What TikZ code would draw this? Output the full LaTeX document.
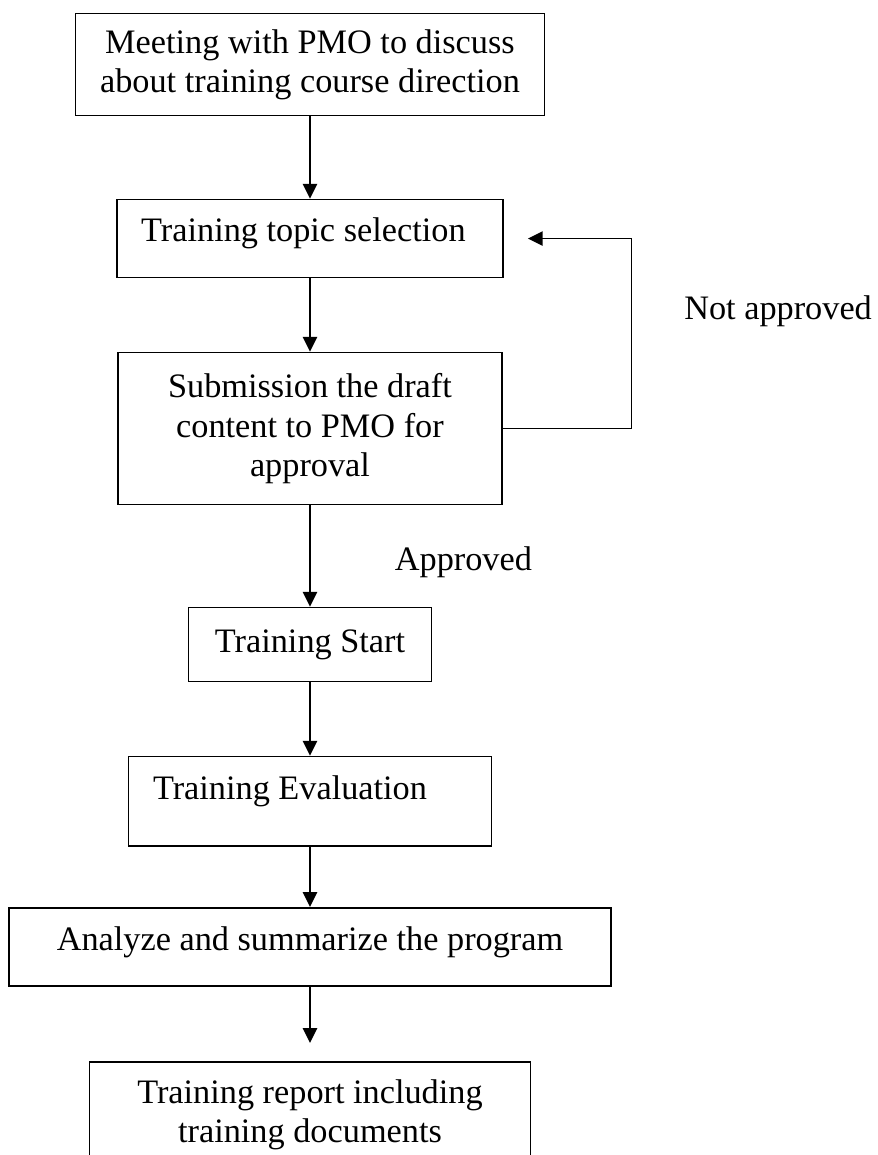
\documentclass[tikz,border=0pt]{standalone}
\usepackage{fontspec}
\setmainfont{Liberation Serif}
\usepackage{tikz}
\usetikzlibrary{matrix,arrows.meta}
\newcommand{\nudge}[3]{\raisebox{#2}[\height][\depth]{\kern#1\relax#3\kern-#1\relax}}

\begin{document}
\begin{tikzpicture}[font=\fontsize{12pt}{13.8pt}\selectfont]
      \tikzstyle{box} = [rectangle, draw, semithick, align=center, inner sep=0pt]
      \tikzstyle{flow} = [semithick, -{Triangle[length=5.2pt, width=5pt]}]
      \tikzstyle{note} = [inner sep=0pt]
      \useasboundingbox (0,0) rectangle (307.3pt,-404.25pt);
      \matrix[anchor=north, inner sep=0pt, row sep=0pt] at (108.5pt,-4.25pt) {
        % meeting with PMO
        \node (meet) [box, minimum width=164.2pt, minimum height=35.7pt]
          {Meeting with PMO to discuss\\about training course direction};\\[28.8pt]
        % topic
        \node (topic) [box, minimum width=135.1pt, minimum height=27.3pt]
          {\nudge{-2.3pt}{1.75pt}{Training topic selection}};\\[25.65pt]
        % draft to PMO
        \node (draft) [box, minimum width=134.4pt, minimum height=53.2pt]
          {Submission the draft\\content to PMO for\\approval};\\[35.45pt]
        % start
        \node (start) [box, minimum width=85.1pt, minimum height=25.9pt]
          {Training Start};\\[25.65pt]
        % evaluation
        \node (eval) [box, minimum width=127.1pt, minimum height=31.2pt]
          {\nudge{-7pt}{3.3pt}{Training Evaluation}};\\[21.1pt]
        % summary
        \node (sum) [box, minimum width=210.7pt, minimum height=27.3pt]
          {\nudge{0pt}{1.4pt}{Analyze and summarize the program}};\\[26pt]
        % report
        \node (report) [box, minimum width=154.4pt, minimum height=37pt]
          {Training report including\\training documents};\\
      };
      \draw [flow] (meet)--(topic);
      \draw [flow] (topic)--(draft);
      \draw [flow] (draft)--node[note, pos=0.563, right=29.4pt]{Approved} (start);
      \draw [flow] (start)--(eval);
      \draw [flow] (eval)--(sum);
      \draw [flow] (sum)--([yshift=6.3pt]report.north);
      \coordinate (back) at ([xshift=45pt]draft.east);
      \draw [flow] (draft.east)--(back)--node[note, pos=0.615, right=18.2pt]{Not approved} (back |- topic.east)--([xshift=8.4pt]topic.east);
\end{tikzpicture}
\end{document}
